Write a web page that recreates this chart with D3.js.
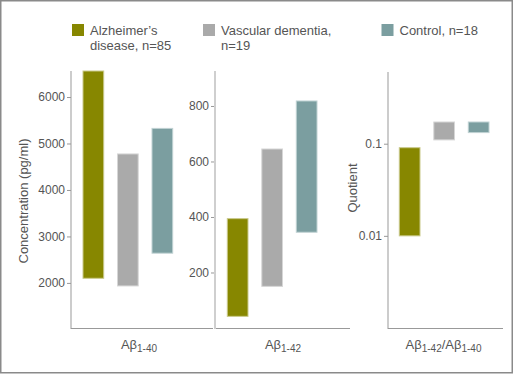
<!DOCTYPE html>
<html><head><meta charset="utf-8">
<script src="https://cdn.jsdelivr.net/npm/d3@7"></script>
<style>body{margin:0;background:#fff}svg{display:block;font-family:"Liberation Sans",Arial,sans-serif}</style>
</head><body><svg id="c" width="514" height="374"></svg>
<script>
const categories = ["Alzheimer's disease, n=85", "Vascular dementia, n=19", "Control, n=18"];
const legendLines = [["Alzheimer\u2019s", "disease, n=85"], ["Vascular dementia,", "n=19"], ["Control, n=18"]];
const colors = ["#878700", "#aaaaaa", "#7b9ea0"];
const strokeColors = ["#c9c98a", "#d6d6d6", "#c0d2d3"];
const ab40Low = [2100, 1935, 2640];
const ab40High = [6560, 4775, 5325];
const ab42Low = [42, 150, 345];
const ab42High = [394, 645, 818];
const ratioLow = [0.01, 0.11, 0.132];
const ratioHigh = [0.0905, 0.172, 0.172];
const ticks40 = [2000, 3000, 4000, 5000, 6000];
const ticks42 = [200, 400, 600, 800];
const ticksRatio = [0.01, 0.1];

const svg = d3.select("#c");
svg.append("rect").attr("x", 0.75).attr("y", 0.75).attr("width", 511.5).attr("height", 372)
  .attr("fill", "#fff").attr("stroke", "#8a8a8a").attr("stroke-width", 1.5);

const plotTop = 71, plotBottom = 328;
const panels = [
  {low: ab40Low, high: ab40High, y: d3.scaleLinear().domain([1030, 6560]).range([plotBottom, plotTop]),
   ticks: ticks40, fmt: d3.format("d"), axisX: 71, start: 76.1, xEnd: 213, axisColor: "#999", axisW: 1},
  {low: ab42Low, high: ab42High, y: d3.scaleLinear().domain([0, 926]).range([plotBottom, plotTop]),
   ticks: ticks42, fmt: d3.format("d"), axisX: 215, start: 220.4, xEnd: 350, axisColor: "#cfcfcf", axisW: 2},
  {low: ratioLow, high: ratioHigh, y: d3.scaleLog().domain([0.001, 0.6]).range([plotBottom, 72]),
   ticks: ticksRatio, fmt: d => String(d), axisX: 388, start: 392.4, xEnd: 503, axisColor: "#999", axisW: 1}
];

panels.forEach((p, pi) => {
  const x = d3.scaleBand().domain(categories).range([p.start, p.start + 3 * 34.5])
    .paddingInner(0.4).paddingOuter(0.2);
  const g = svg.append("g");
  g.append("line").attr("x1", p.axisX).attr("x2", p.xEnd).attr("y1", plotBottom + 0.5).attr("y2", plotBottom + 0.5)
    .attr("stroke", "#999").attr("stroke-width", 1);
  const ax = g.append("g").attr("transform", `translate(${p.axisX},0)`)
    .call(d3.axisLeft(p.y).tickValues(p.ticks).tickFormat(p.fmt).tickSize(4).tickPadding(2).tickSizeOuter(0));
  ax.select(".domain").remove();
  ax.append("line").attr("x1", 0).attr("x2", 0).attr("y1", p.y.range()[1]).attr("y2", plotBottom + 1)
    .attr("stroke", p.axisColor).attr("stroke-width", p.axisW);
  ax.selectAll(".tick line").attr("stroke", "#999");
  ax.selectAll(".tick text").attr("fill", "#555").style("font-size", "12px")
    .style("font-family", '"Liberation Sans",Arial,sans-serif');
  g.selectAll("rect.bar").data(categories).join("rect").attr("class", "bar")
    .attr("x", d => x(d)).attr("width", x.bandwidth())
    .attr("y", (d, i) => p.y(p.high[i]))
    .attr("height", (d, i) => p.y(p.low[i]) - p.y(p.high[i]))
    .attr("fill", (d, i) => colors[i])
    .attr("stroke", (d, i) => strokeColors[i]).attr("stroke-width", 1);
});

svg.append("text").attr("transform", "translate(28,201) rotate(-90)").attr("text-anchor", "middle")
  .attr("fill", "#555").style("font-size", "13px").text("Concentration (pg/ml)");
svg.append("text").attr("transform", "translate(357,188) rotate(-90)").attr("text-anchor", "middle")
  .attr("fill", "#555").style("font-size", "13px").text("Quotient");

function abLabel(cx, parts) {
  const t = svg.append("text").attr("x", cx).attr("y", 349).attr("text-anchor", "middle").attr("fill", "#555");
  parts.forEach(pt => {
    t.append("tspan").style("font-size", "13px").attr("dy", pt[2]).text(pt[0]);
    t.append("tspan").style("font-size", "10px").attr("dy", 3).text(pt[1]);
  });
}
abLabel(139, [["A\u03b2", "1-40", 0]]);
abLabel(283, [["A\u03b2", "1-42", 0]]);
abLabel(443.5, [["A\u03b2", "1-42", 0], ["/A\u03b2", "1-40", -3]]);

const legX = [72, 203, 381.5];
const leg = svg.append("g").selectAll("g").data(categories).join("g")
  .attr("transform", (d, i) => `translate(${legX[i]},24)`);
leg.append("rect").attr("width", 12).attr("height", 12).attr("fill", (d, i) => colors[i]);
leg.each(function(d, i) {
  const t = d3.select(this).append("text").attr("fill", "#555").style("font-size", "13px");
  legendLines[i].forEach((ln, j) => t.append("tspan").attr("x", 18).attr("y", 11 + j * 15).text(ln));
});
</script></body></html>
